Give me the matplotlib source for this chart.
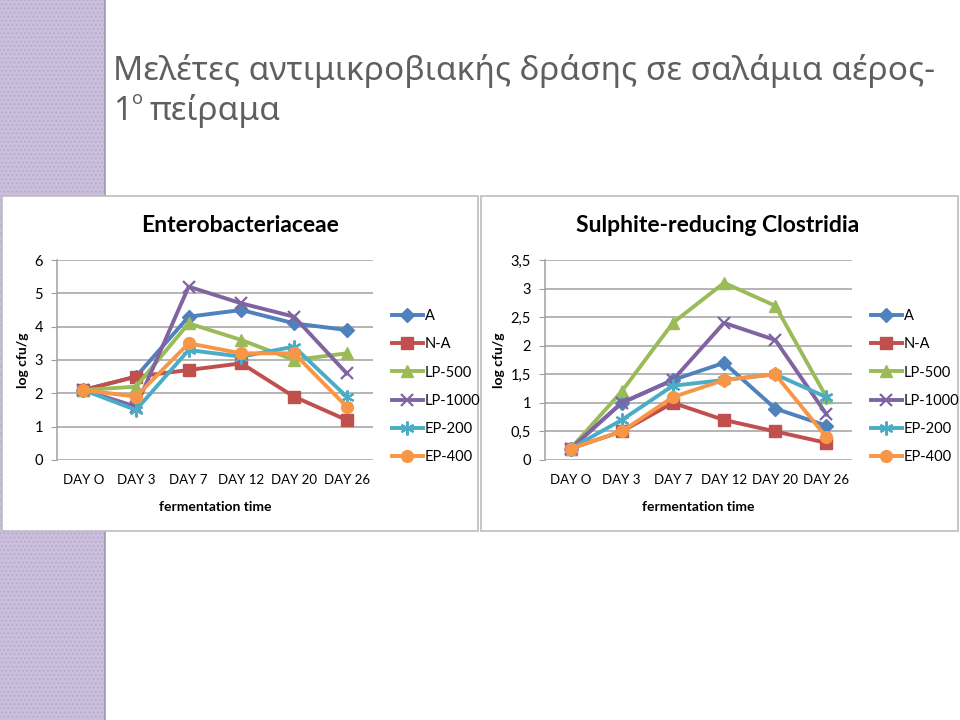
import matplotlib
matplotlib.use("Agg")
import matplotlib.pyplot as plt
from matplotlib.patches import Rectangle
from matplotlib.lines import Line2D

days = ["DAY O", "DAY 3", "DAY 7", "DAY 12", "DAY 20", "DAY 26"]
series_names = ["A", "N-A", "LP-500", "LP-1000", "EP-200", "EP-400"]

entero_A = [2.1, 2.5, 4.3, 4.5, 4.1, 3.9]
entero_NA = [2.1, 2.5, 2.7, 2.9, 1.9, 1.2]
entero_LP500 = [2.1, 2.2, 4.1, 3.6, 3.0, 3.2]
entero_LP1000 = [2.1, 1.6, 5.2, 4.7, 4.3, 2.6]
entero_EP200 = [2.1, 1.5, 3.3, 3.1, 3.4, 1.9]
entero_EP400 = [2.1, 1.9, 3.5, 3.2, 3.2, 1.6]

clost_A = [0.2, 1.0, 1.4, 1.7, 0.9, 0.6]
clost_NA = [0.2, 0.5, 1.0, 0.7, 0.5, 0.3]
clost_LP500 = [0.2, 1.2, 2.4, 3.1, 2.7, 1.1]
clost_LP1000 = [0.2, 1.0, 1.4, 2.4, 2.1, 0.8]
clost_EP200 = [0.2, 0.7, 1.3, 1.4, 1.5, 1.1]
clost_EP400 = [0.2, 0.5, 1.1, 1.4, 1.5, 0.4]

entero_ticks = [0, 1, 2, 3, 4, 5, 6]
entero_ticklabels = ["0", "1", "2", "3", "4", "5", "6"]
clost_ticks = [0, 0.5, 1, 1.5, 2, 2.5, 3, 3.5]
clost_ticklabels = ["0", "0,5", "1", "1,5", "2", "2,5", "3", "3,5"]

colors = ["#4F81BD", "#C0504D", "#9BBB59", "#8064A2", "#4BACC6", "#F79646"]
markers = ["D", "s", "^", "x", (6, 2, 0), "o"]
msizes = [7.5, 8.5, 8.5, 9, 10, 8.5]

FONT = ["Lato", "DejaVu Sans"]
plt.rcParams["font.family"] = FONT

W, H = 960, 720
fig = plt.figure(figsize=(9.6, 7.2), dpi=100)
fig.patch.set_facecolor("white")


def fx(x):
    return x / W


def fy(y):
    return 1 - y / H


# purple stripe
fig.patches.append(Rectangle((0, 0), fx(105), 1, transform=fig.transFigure,
                             facecolor="#cbbfdd", edgecolor="#b9abcf", hatch="....",
                             linewidth=0, zorder=-3))
fig.add_artist(Line2D([fx(105), fx(105)], [0, 1], color="#9a9aa6", lw=1.2,
                      transform=fig.transFigure, zorder=-2.5))

# chart boxes
for x0, x1 in [(2, 478), (481, 958)]:
    fig.patches.append(Rectangle((fx(x0), fy(531)), fx(x1 - x0), (531 - 196) / H,
                                 transform=fig.transFigure, facecolor="white",
                                 edgecolor="#bdbdbd", linewidth=1.2, zorder=-2))

# slide title
title_font = ["Noto Sans", "DejaVu Sans"]
tkw = dict(fontsize=24, color="#5f5f5f", family=title_font, va="baseline", ha="left")
fig.text(fx(113), fy(80), "Μελέτες αντιμικροβιακής δράσης σε σαλάμια αέρος-", **tkw)
fig.text(fx(113), fy(120), "1", **tkw)
fig.text(fx(132), fy(104), "ο", fontsize=13, color="#5f5f5f", family=title_font,
         va="baseline", ha="left")
fig.text(fx(150), fy(120), "πείραμα", **tkw)


def draw_chart(ax_px, data, ticks, ticklabels, ymax, title, title_xy, legend_x):
    x0, x1, ytop, ybot = ax_px
    ax = fig.add_axes([fx(x0), fy(ybot), fx(x1 - x0), (ybot - ytop) / H])
    ax.set_facecolor("none")
    xs = list(range(len(days)))
    for vals, c, m, ms, name in zip(data, colors, markers, msizes, series_names):
        thin = (m == "x") or isinstance(m, tuple)
        ax.plot(xs, vals, color=c, lw=2.8, marker=m, markersize=ms,
                markeredgecolor=c, markerfacecolor=c,
                markeredgewidth=1.6 if thin else 1,
                label=name, zorder=3, clip_on=False)
    ax.set_xlim(-0.5, len(days) - 0.5)
    ax.set_ylim(0, ymax)
    ax.set_yticks(ticks)
    ax.set_yticklabels(ticklabels, fontsize=10.5)
    ax.set_xticks(xs)
    ax.set_xticklabels(days, fontsize=9.5)
    ax.grid(axis="y", color="#a0a0a0", lw=1.1)
    ax.set_axisbelow(True)
    for s in ["top", "right", "bottom"]:
        ax.spines[s].set_visible(False)
    ax.spines["left"].set_color("#a0a0a0")
    ax.spines["left"].set_linewidth(1.1)
    ax.tick_params(axis="y", length=4, color="#a0a0a0", pad=6)
    ax.tick_params(axis="x", length=0, pad=10)
    ax.set_xlabel("fermentation time", fontsize=10, fontweight="bold", labelpad=11)
    ax.set_ylabel("log cfu/g", fontsize=10, fontweight="bold", labelpad=4)
    fig.text(fx(title_xy[0]), fy(title_xy[1]), title, fontsize=16.5, fontweight="bold",
             ha="center", va="center", color="black")
    ax.legend(loc="upper left", bbox_to_anchor=(fx(legend_x), fy(309)),
              bbox_transform=fig.transFigure, frameon=False, fontsize=10.5,
              handlelength=2.1, labelspacing=0.98, handletextpad=0.15, borderaxespad=0,
              borderpad=0)
    return ax


draw_chart((57, 373, 260, 460),
           [entero_A, entero_NA, entero_LP500, entero_LP1000, entero_EP200, entero_EP400],
           entero_ticks, entero_ticklabels, 6, "Enterobacteriaceae", (240, 225), 392)
draw_chart((545, 852, 260, 460),
           [clost_A, clost_NA, clost_LP500, clost_LP1000, clost_EP200, clost_EP400],
           clost_ticks, clost_ticklabels, 3.5, "Sulphite-reducing Clostridia", (718, 225), 871)

fig.savefig("out.png", dpi=100)
